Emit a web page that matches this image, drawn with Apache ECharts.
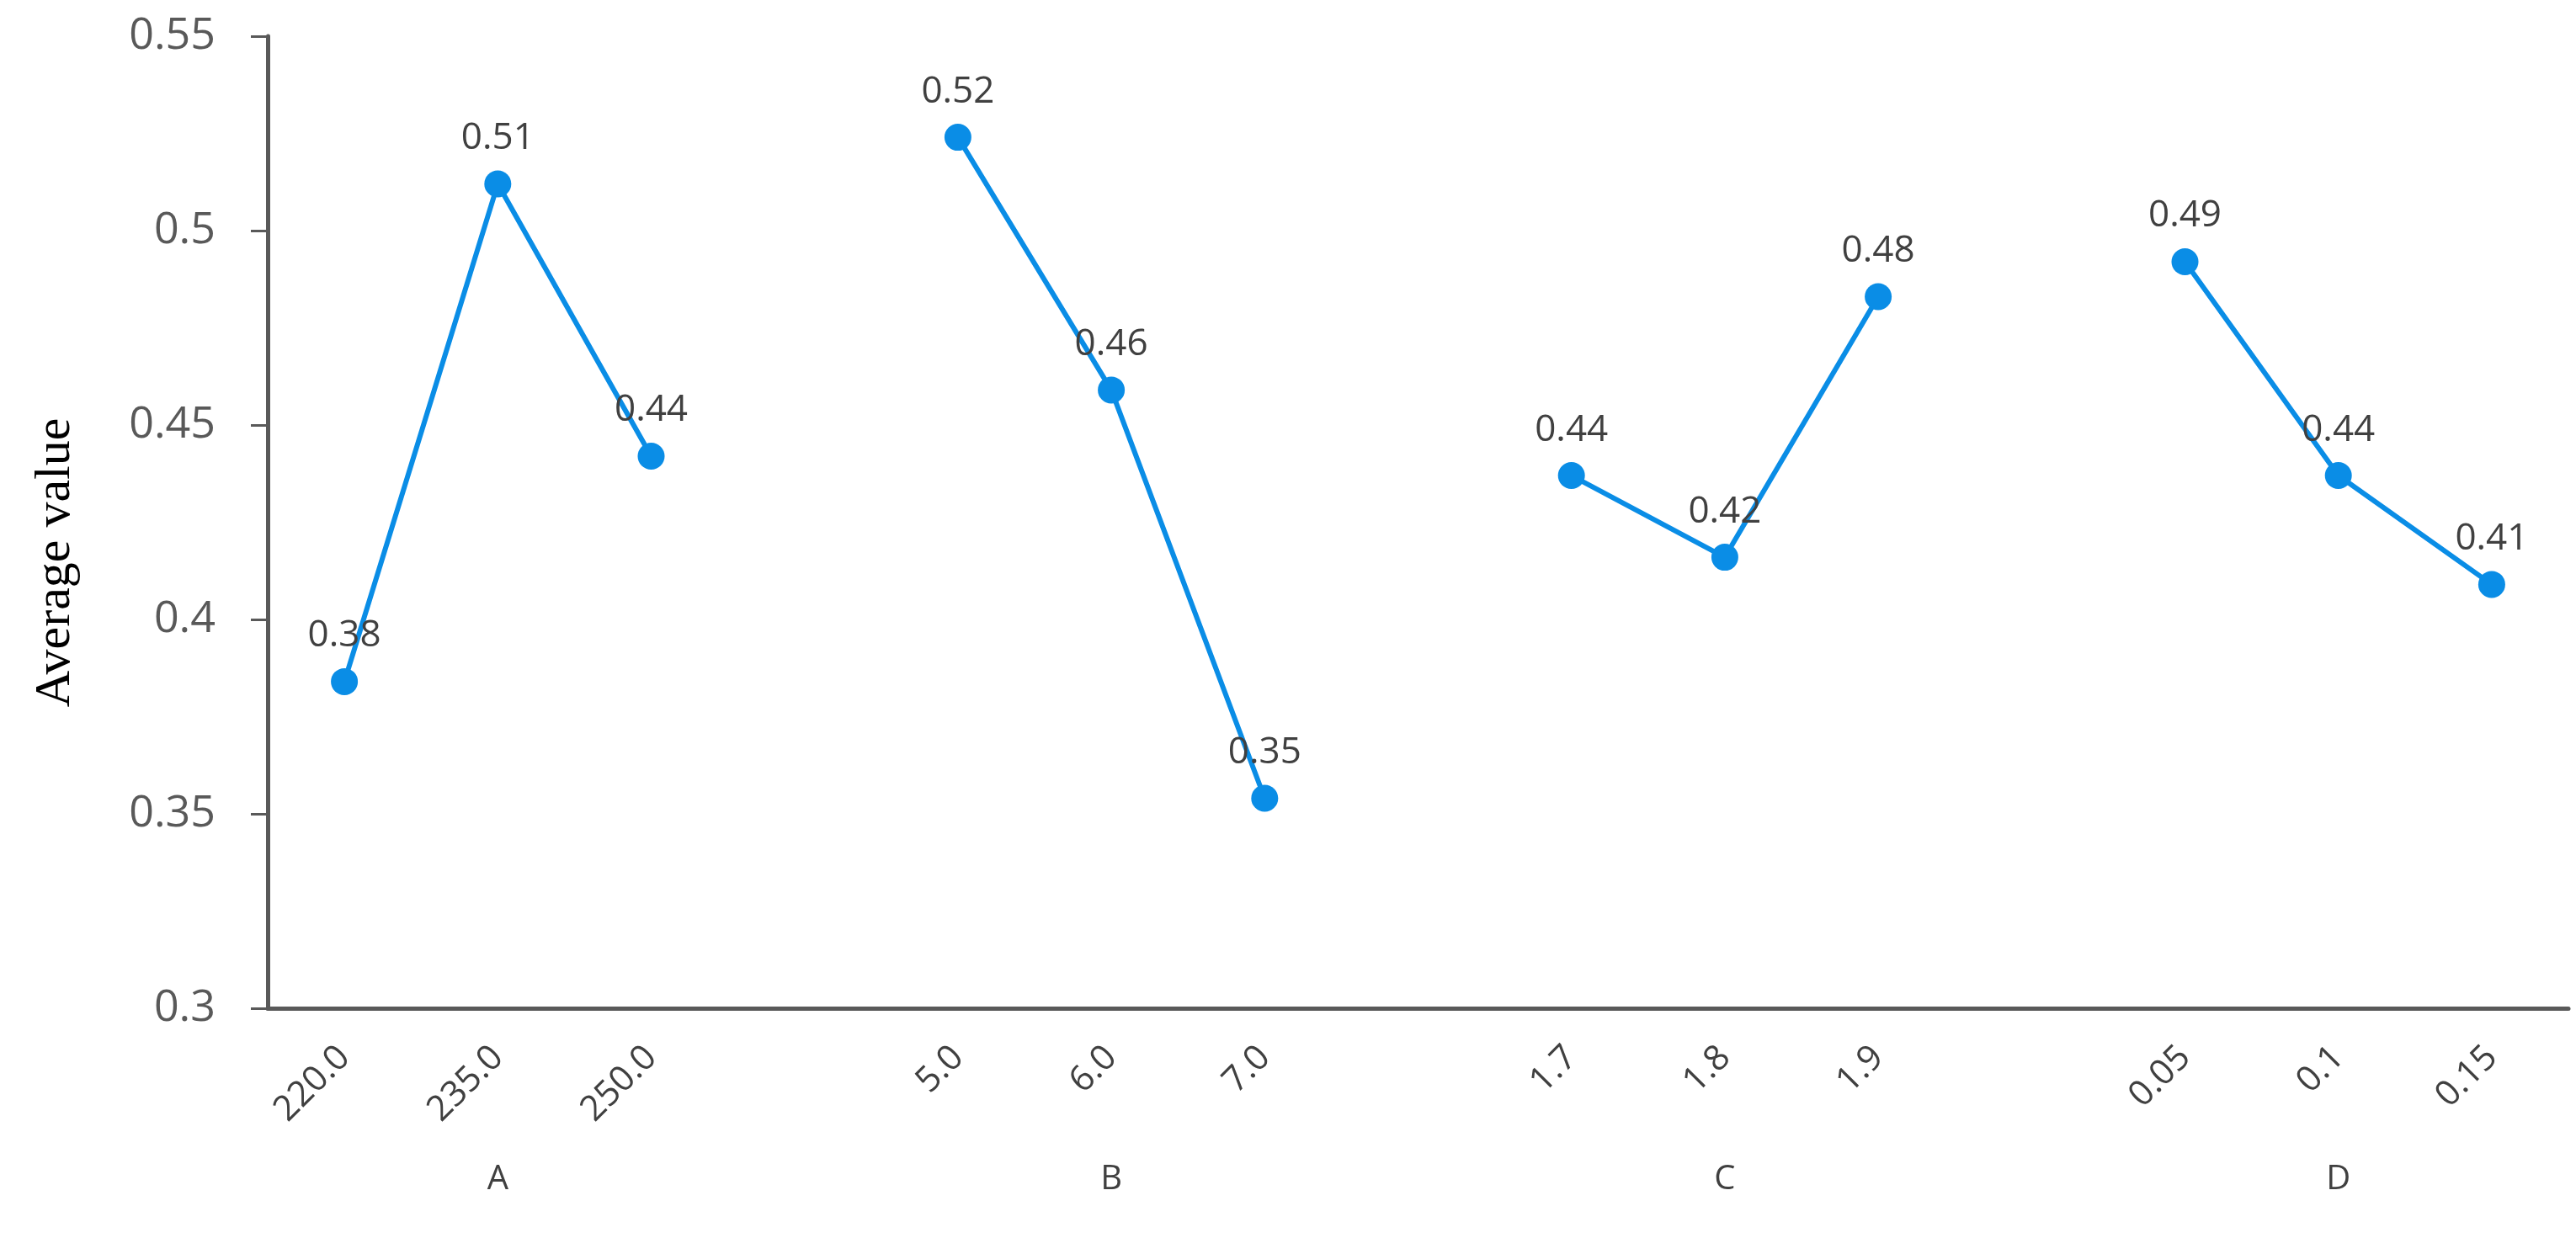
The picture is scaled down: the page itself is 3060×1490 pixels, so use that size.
<!DOCTYPE html>
<html>
<head>
<meta charset="utf-8">
<title>Average value</title>
<script src="https://cdn.jsdelivr.net/npm/echarts@6/dist/echarts.min.js"></script>
<style>
  html, body { margin: 0; padding: 0; background: #fff; }
  #chart { width: 3060px; height: 1490px; }
</style>
</head>
<body>
<div id="chart"></div>
<script>
// levels of each factor, blank slots separate the groups
const levels = ['220.0', '235.0', '250.0', ' ', '5.0', '6.0', '7.0', '  ', '1.7', '1.8', '1.9', '   ', '0.05', '0.1', '0.15'];
const groups = ['', 'A', '', ' ', '', 'B', '', '  ', '', 'C', '', '   ', '', 'D', ''];
const avgValues = [0.384, 0.512, 0.442, null, 0.524, 0.459, 0.354, null, 0.437, 0.416, 0.483, null, 0.492, 0.437, 0.409];
const yTicks = [0.3, 0.35, 0.4, 0.45, 0.5, 0.55];

const chart = echarts.init(document.getElementById('chart'));
const textFont = '"Open Sans", "Noto Sans", sans-serif';

chart.setOption({
  animation: false,
  grid: { left: 318, right: 9, top: 43, bottom: 292 },
  xAxis: [
    {
      type: 'category',
      data: levels,
      boundaryGap: true,
      axisLine: { lineStyle: { color: '#595959', width: 5 } },
      axisTick: { show: false },
      axisLabel: {
        interval: 0,
        rotate: 45,
        margin: 52,
        fontSize: 42,
        color: '#404040',
        fontFamily: textFont
      }
    },
    {
      type: 'category',
      data: groups,
      position: 'bottom',
      offset: 184,
      axisLine: { show: false },
      axisTick: { show: false },
      axisLabel: {
        interval: 0,
        margin: 0,
        fontSize: 40,
        color: '#404040',
        fontFamily: textFont
      }
    }
  ],
  yAxis: {
    type: 'value',
    min: yTicks[0],
    max: yTicks[yTicks.length - 1],
    interval: 0.05,
    name: 'Average value',
    nameLocation: 'middle',
    nameGap: 222,
    nameTextStyle: {
      fontFamily: '"Liberation Serif", "DejaVu Serif", serif',
      fontSize: 60,
      color: '#000',
      padding: [0, 96, 0, 0]
    },
    splitLine: { show: false },
    axisLine: { show: true, lineStyle: { color: '#595959', width: 5 } },
    axisTick: { show: true, length: 20, lineStyle: { color: '#595959', width: 3 } },
    axisLabel: {
      margin: 62,
      fontSize: 52,
      color: '#595959',
      fontFamily: textFont,
      formatter: v => String(+v.toFixed(2))
    }
  },
  series: [{
    type: 'line',
    data: avgValues,
    xAxisIndex: 0,
    connectNulls: false,
    symbol: 'circle',
    symbolSize: 32,
    itemStyle: { color: '#0a8de6' },
    lineStyle: { color: '#0a8de6', width: 6 },
    label: {
      show: true,
      position: 'top',
      distance: 16,
      fontSize: 44,
      color: '#404040',
      fontFamily: textFont,
      formatter: p => p.value.toFixed(2)
    }
  }]
});
</script>
</body>
</html>
